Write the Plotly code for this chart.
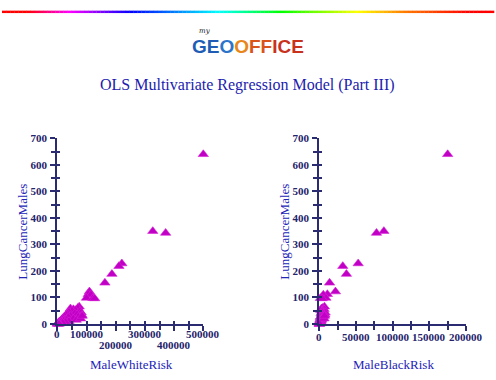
import plotly.graph_objects as go
import colorsys

# ---------------- data ----------------
lung_cancer_males = [640, 350, 343, 228, 218, 188, 155, 122, 112, 110, 98, 97, 96,
                     65, 60, 58, 55, 52, 50, 48, 45, 42, 40, 38, 36, 35, 33, 30, 28,
                     27, 25, 22, 20, 18, 16, 15, 13, 12, 10, 9, 8, 7, 6, 5, 4, 3, 2,
                     2, 1, 1, 0, 0, 20, 30]
male_white_risk = [500000, 327000, 371000, 221000, 211000, 187000, 163000, 110000, 106000,
                   115000, 100000, 122000, 128000,
                   75000, 70000, 45000, 55000, 62000, 50000, 78000, 40000, 82000, 60000,
                   35000, 68000, 30000, 84000, 45000, 25000, 72000, 38000, 20000, 55000,
                   16000, 30000, 65000, 12000, 22000, 40000, 8000, 15000, 28000, 5000,
                   10000, 18000, 3000, 7000, 2000, 4000, 1000, 500, 6000, 80000, 85000]
male_black_risk = [175000, 88000, 78000, 53000, 32000, 37000, 14000, 22000, 11000,
                   5500, 9000, 1500, 4000,
                   7000, 4500, 3000, 6500, 2000, 5000, 4000, 3500, 8000, 2500,
                   5500, 3000, 7500, 6000, 4500, 2000, 5000, 1500, 3500, 4000,
                   1000, 2500, 3000, 800, 1800, 2200, 500, 1200, 600, 300,
                   900, 400, 200, 500, 100, 300, 50, 50, 200, 6500, 7000]

left_x_ticks = [0, 100000, 200000, 300000, 400000, 500000]
left_x_labels = ["0", "100000", "200000", "300000", "400000", "500000"]
right_x_ticks = [0, 50000, 100000, 150000, 200000]
right_x_labels = ["0", "50000", "100000", "150000", "200000"]
y_ticks = [0, 100, 200, 300, 400, 500, 600, 700]

title_text = "OLS Multivariate Regression Model (Part III)"

# ---------------- styling ----------------
W, H = 496, 380
NAVY = "#2b2b72"
TICKFONT = dict(family="Liberation Serif", size=11, color="#24246a", weight="bold")
TITLEBLUE = "#2323b8"

def px(xp):
    return xp / W

def py(yp):
    return 1 - yp / H

left_dom = [px(57.3), px(203.3)]
right_dom = [px(319.3), px(466.0)]
y_dom = [py(328.3), py(136.7)]

marker = dict(symbol="triangle-up", size=9, color="#c000c4",
              line=dict(color="#d820d8", width=0.6))

fig = go.Figure()
fig.add_trace(go.Scatter(x=male_white_risk, y=lung_cancer_males, mode="markers",
                         marker=marker, xaxis="x", yaxis="y", cliponaxis=False,
                         showlegend=False))
fig.add_trace(go.Scatter(x=male_black_risk, y=lung_cancer_males, mode="markers",
                         marker=marker, xaxis="x2", yaxis="y2", cliponaxis=False,
                         showlegend=False))
# empty traces for overlay axes that draw the inner half of the crossing ticks
for xa, ya in (("x3", "y3"), ("x4", "y4")):
    fig.add_trace(go.Scatter(x=[], y=[], xaxis=xa, yaxis=ya, showlegend=False,
                             hoverinfo="skip"))

def xaxis(dom, rng, ticks, minor, anchor, side="outside", tl=5, mtl=4):
    return dict(domain=dom, range=rng, anchor=anchor, showline=True, linecolor=NAVY,
                linewidth=2, ticks=side, tickvals=ticks, ticklen=tl, tickwidth=1.5,
                tickcolor=NAVY, showticklabels=False, showgrid=False, zeroline=False,
                minor=dict(dtick=minor, tick0=0, ticks=side, ticklen=mtl, tickwidth=1.5,
                           tickcolor=NAVY, showgrid=False),
                fixedrange=True)

def yaxis(anchor, side="outside", tl=5, mtl=4, labels=True):
    return dict(domain=y_dom, range=[0, 700], anchor=anchor, showline=True,
                linecolor=NAVY, linewidth=2, ticks=side, tickvals=y_ticks,
                ticklen=tl, tickwidth=1.5, tickcolor=NAVY, showticklabels=labels,
                tickfont=TICKFONT, showgrid=False, zeroline=False,
                minor=dict(dtick=50, tick0=0, ticks=side, ticklen=mtl, tickwidth=1.5,
                           tickcolor=NAVY, showgrid=False),
                ticklabelstandoff=1, fixedrange=True)

layout = dict(
    width=W, height=H, margin=dict(l=0, r=0, t=0, b=0),
    paper_bgcolor="white", plot_bgcolor="white", showlegend=False,
    xaxis=xaxis(left_dom, [0, 500000], left_x_ticks, 50000, "y"),
    yaxis=yaxis("x"),
    xaxis2=xaxis(right_dom, [0, 200000], right_x_ticks, 25000, "y2"),
    yaxis2=yaxis("x2"),
)
x3 = xaxis(left_dom, [0, 500000], left_x_ticks, 50000, "y3", side="inside", tl=3, mtl=3)
x3.update(overlaying="x")
y3 = yaxis("x3", side="inside", tl=3, mtl=3, labels=False)
y3.update(overlaying="y")
x4 = xaxis(right_dom, [0, 200000], right_x_ticks, 25000, "y4", side="inside", tl=3, mtl=3)
x4.update(overlaying="x2")
y4 = yaxis("x4", side="inside", tl=3, mtl=3, labels=False)
y4.update(overlaying="y2")
layout.update(xaxis3=x3, yaxis3=y3, xaxis4=x4, yaxis4=y4)
fig.update_layout(**layout)

annotations = []
# x tick labels (left plot staggered on two rows)
for i, (v, lab) in enumerate(zip(left_x_ticks, left_x_labels)):
    row_y = 350.5 if i in (2, 4) else 338.5
    annotations.append(dict(x=v, y=py(row_y), xref="x", yref="paper", text=lab,
                            showarrow=False, font=TICKFONT))
for v, lab in zip(right_x_ticks, right_x_labels):
    annotations.append(dict(x=v, y=py(341.5), xref="x2", yref="paper", text=lab,
                            showarrow=False, font=TICKFONT))

axis_title_font = dict(family="Liberation Serif", size=13, color=TITLEBLUE)
annotations += [
    dict(x=px(23), y=py(233), xref="paper", yref="paper", text="LungCancerMales",
         textangle=-90, showarrow=False, font=axis_title_font),
    dict(x=px(285), y=py(233), xref="paper", yref="paper", text="LungCancerMales",
         textangle=-90, showarrow=False, font=axis_title_font),
    dict(x=px(131), y=py(370), xref="paper", yref="paper", text="MaleWhiteRisk",
         showarrow=False, font=axis_title_font),
    dict(x=px(393), y=py(370), xref="paper", yref="paper", text="MaleBlackRisk",
         showarrow=False, font=axis_title_font),
    dict(x=px(247.5), y=py(82), xref="paper", yref="paper", text=title_text,
         showarrow=False, font=dict(family="Liberation Serif", size=16, color="#1c1cae")),
    # logo
    dict(x=px(248), y=py(42), xref="paper", yref="paper",
         text=("<b><span style='color:#1e5db5'>GE</span>"
               "<span style='color:#2c74c9'>O</span>"
               "<span style='color:#e8861a'>O</span>"
               "<span style='color:#d9541a'>FF</span>"
               "<span style='color:#c8321c'>ICE</span></b>"),
         showarrow=False, font=dict(family="Liberation Sans", size=19)),
    dict(x=px(205), y=py(26), xref="paper", yref="paper", text="<i>my</i>",
         showarrow=False, font=dict(family="DejaVu Serif", size=7, color="#222222")),
]
for a in annotations:
    a.setdefault("xanchor", "center")
    a.setdefault("yanchor", "middle")
fig.update_layout(annotations=annotations)

# rainbow rule at the top
stops = [(0.0, 0.0), (0.05, 0.0), (0.14, 0.83), (0.27, 0.66), (0.44, 0.5),
         (0.57, 0.33), (0.72, 0.17), (0.82, 0.08), (0.95, 0.0), (1.0, 0.0)]

def hue_at(t):
    for (t0, h0), (t1, h1) in zip(stops[:-1], stops[1:]):
        if t0 <= t <= t1:
            if h0 == 0.0 and h1 > 0.5:
                h0 = 1.0
            f = 0 if t1 == t0 else (t - t0) / (t1 - t0)
            return (h0 + (h1 - h0) * f) % 1.0
    return 0.0

shapes = []
N = 120
x0p, x1p = 2, 494
for i in range(N):
    t = (i + 0.5) / N
    r, g, b = colorsys.hsv_to_rgb(hue_at(t), 1.0, 1.0)
    col = "rgb(%d,%d,%d)" % (r * 255, g * 255, b * 255)
    a = x0p + (x1p - x0p) * i / N
    c = x0p + (x1p - x0p) * (i + 1) / N + 0.3
    shapes.append(dict(type="rect", xref="paper", yref="paper", x0=px(a), x1=px(c),
                       y0=py(7.3), y1=py(4.8), fillcolor=col, line=dict(width=0),
                       layer="above"))
fig.update_layout(shapes=shapes)

# remove the default 8px page margin so the figure sits at the window's top-left
fig.write_html("out.html", config={"displayModeBar": False},
               post_script="document.body.style.margin='0';")
